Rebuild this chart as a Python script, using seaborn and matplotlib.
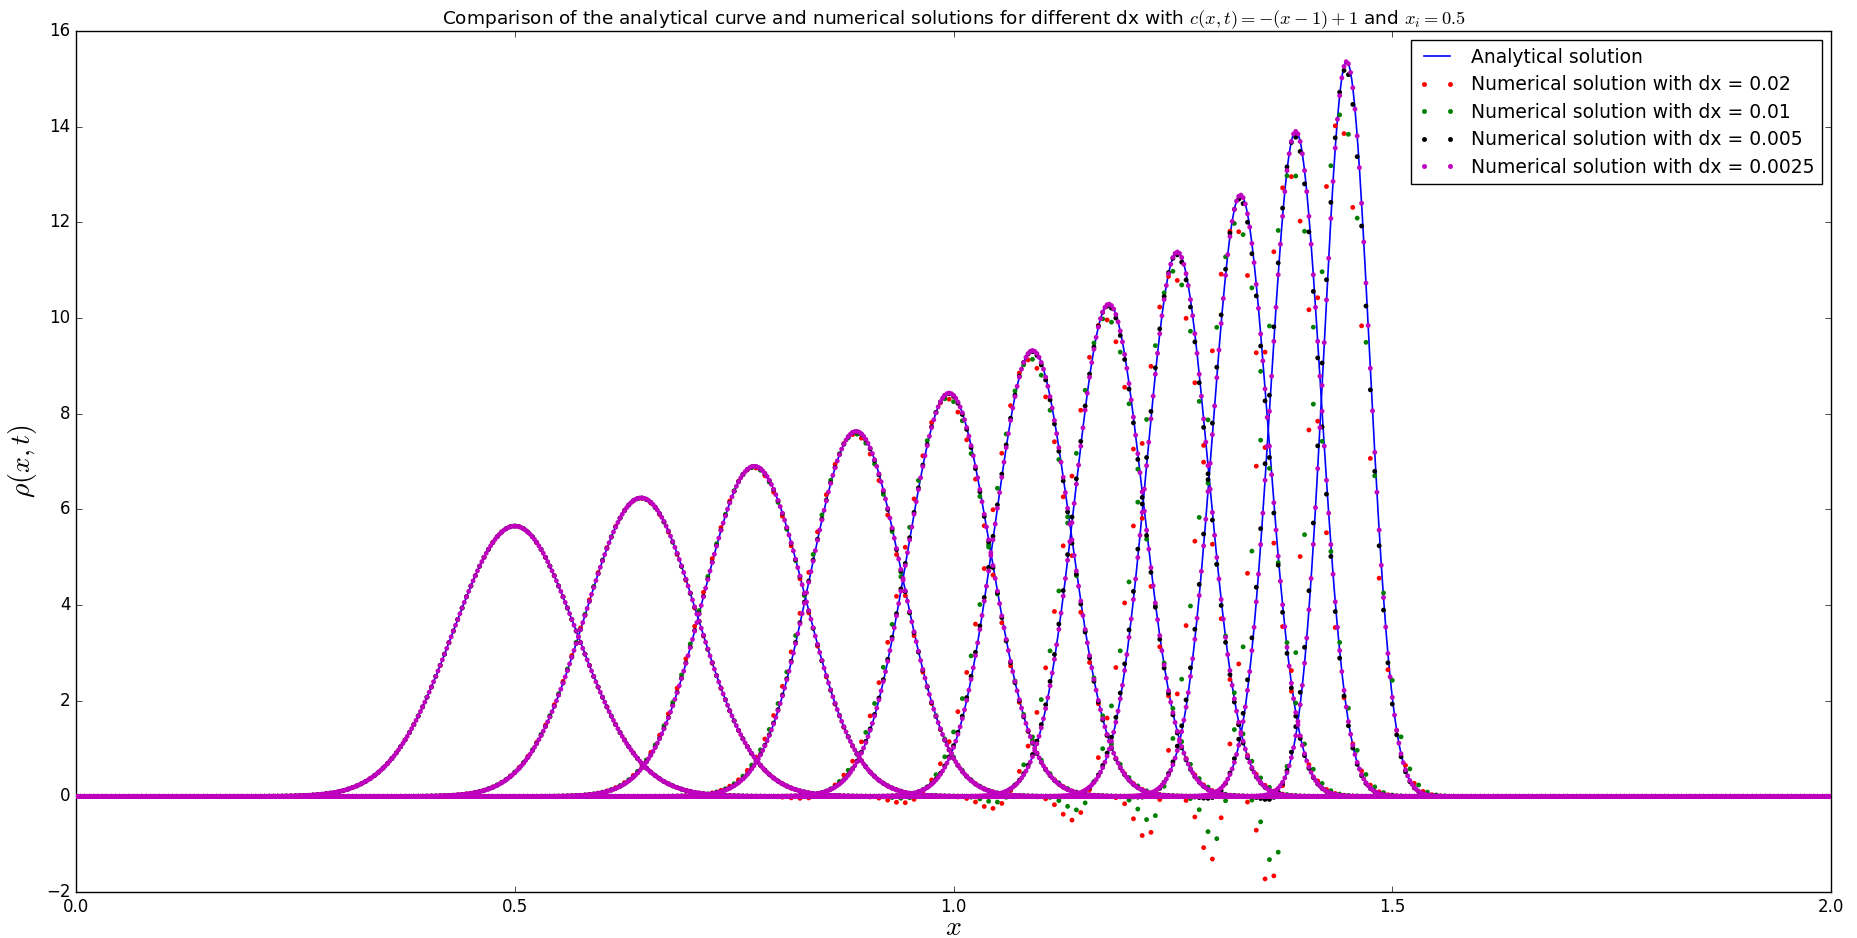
import numpy as np
import pandas as pd
import matplotlib
matplotlib.use("Agg")
import matplotlib.pyplot as plt
from matplotlib.lines import Line2D
import seaborn as sns

# analytical pulse at t = 0, 0.1, ..., 1.0 : peak position and peak height
peak_x = [0.500, 0.644, 0.773, 0.889, 0.995, 1.090, 1.177, 1.255, 1.327, 1.390, 1.448]
peak_h = [5.65, 6.24, 6.90, 7.63, 8.43, 9.32, 10.29, 11.38, 12.57, 13.90, 15.36]

# numerical runs
dx_labels = ["0.02", "0.01", "0.005", "0.0025"]
dx_colors = ["r", "g", "k", "m"]
grid_step = [0.01, 0.01, 0.005, 0.0025]
grid_start = [0.005, 0.0, 0.0, 0.0]

# error of each run at t = 1: peak ratio, width ratio, lag (sigma units)
peak_ratio = [0.92, 0.93, 0.99, 1.0]
width_ratio = [1.18, 1.18, 1.01, 1.0]
lag = [0.35, 0.22, 0.05, 0.0]
# how that error grows over the snapshots
err_growth = [0, 0.02, 0.05, 0.10, 0.17, 0.26, 0.37, 0.50, 0.64, 0.80, 1.0]
# depth of the negative lobe that trails each pulse
dip_red = [0, 0, 0, 0, 0.08, 0.20, 0.35, 0.65, 1.10, 1.70, 2.50]
dip_green = [0, 0, 0, 0, 0.05, 0.12, 0.25, 0.48, 0.80, 1.35, 2.10]
dip_black = [0, 0, 0, 0, 0, 0, 0.02, 0.04, 0.06, 0.10, 0.14]
dip_magenta = [0, 0, 0, 0, 0, 0, 0, 0, 0, 0, 0]
dip_depth = [dip_red, dip_green, dip_black, dip_magenta]
dip_offset = [3.3, 3.1, 3.2, 3.2]  # sigma units behind the peak


def pulse(x, xc, h, sig):
    return h * np.exp(-0.5 * ((x - xc) / sig) ** 2)


def main():
    plt.style.use("classic")
    plt.rcParams["figure.facecolor"] = "white"
    plt.rcParams["savefig.facecolor"] = "white"
    plt.rcParams["mathtext.fontset"] = "cm"

    # analytical curves
    xa = np.linspace(0, 2, 2001)
    rows = []
    for k, (xc, h) in enumerate(zip(peak_x, peak_h)):
        sig = 1.0 / (h * np.sqrt(2 * np.pi))  # unit mass
        rows.append(pd.DataFrame({"x": xa, "rho": pulse(xa, xc, h, sig), "snap": k}))
    ana = pd.concat(rows, ignore_index=True)

    # numerical dots
    rows = []
    for i, lab in enumerate(dx_labels):
        xg = np.arange(grid_start[i], 2.0 + 1e-9, grid_step[i])
        for k, (xc, h) in enumerate(zip(peak_x, peak_h)):
            sig = 1.0 / (h * np.sqrt(2 * np.pi))
            e = err_growth[k]
            P = h * (1 - (1 - peak_ratio[i]) * e)
            s = sig * (1 + (width_ratio[i] - 1) * e)
            d = lag[i] * e * sig
            v = pulse(xg, xc - d, P, s)
            v = v - pulse(xg, xc - dip_offset[i] * sig, dip_depth[i][k], 0.45 * sig)
            rows.append(pd.DataFrame({"x": xg, "rho": v, "dx": lab}))
    num = pd.concat(rows, ignore_index=True)

    fig, ax = plt.subplots(figsize=(18.58, 9.38), dpi=100)
    fig.subplots_adjust(left=0.0409, right=0.9855, top=0.967, bottom=0.049)

    sns.lineplot(data=ana, x="x", y="rho", units="snap", estimator=None,
                 color="b", lw=1.2, ax=ax, legend=False, zorder=2)
    sns.scatterplot(data=num, x="x", y="rho", hue="dx", hue_order=dx_labels,
                    palette=dict(zip(dx_labels, dx_colors)), s=12,
                    edgecolor="none", linewidth=0, ax=ax, legend=False, zorder=3)

    ax.set_xlim(0, 2)
    ax.set_ylim(-2, 16)
    ax.set_xticks([0, 0.5, 1.0, 1.5, 2.0])
    ax.set_yticks(range(-2, 17, 2))
    ax.set_xlabel("$x$", fontsize=20, labelpad=-2)
    ax.set_ylabel(r"$\rho(x,t)$", fontsize=20)
    ax.set_title("Comparison of the analytical curve and numerical solutions for different dx "
                 "with $c(x,t) = -(x-1)+1$ and $x_i = 0.5$", fontsize=13.3)

    handles = [Line2D([], [], color="b", lw=1.2, label="Analytical solution")]
    for lab, col in zip(dx_labels, dx_colors):
        handles.append(Line2D([], [], color=col, marker=".", ls="none", markersize=6,
                              markeredgecolor=col, label="Numerical solution with dx = " + lab))
    ax.legend(handles=handles, loc="upper right", numpoints=2, fontsize=13.5,
              labelspacing=0.45, fancybox=False, edgecolor="k")

    fig.savefig("out.png", dpi=100)


if __name__ == "__main__":
    main()
